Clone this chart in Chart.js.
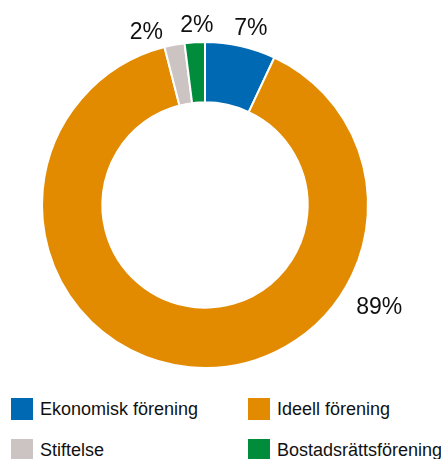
<!DOCTYPE html>
<html>
<head>
<meta charset="utf-8">
<script src="https://cdn.jsdelivr.net/npm/chart.js@4"></script>
<style>
  body { margin: 0; background: #fff; width: 441px; height: 459px; overflow: hidden; position: relative; font-family: "Liberation Sans", Arial, sans-serif; }
  #wrap { position: absolute; left: 0; top: 0; width: 441px; height: 385px; }
  .item { position: absolute; display: flex; align-items: center; font-size: 18px; color: #111; white-space: nowrap; }
  .item span.box { width: 22px; height: 22px; margin-right: 7px; display: inline-block; }
</style>
</head>
<body>
<div id="wrap"><canvas id="chart"></canvas></div>
<div id="legend"></div>
<script>
// ===============================
// Data
// ===============================
const labels = ['Ekonomisk förening', 'Ideell förening', 'Stiftelse', 'Bostadsrättsförening'];
const shares = [7, 89, 2, 2];
const colors = ['#0069b4', '#e28a00', '#cbc4c2', '#008c3b'];

// label tweaks (angle in degrees, extra radius) so small slices don't collide
const labelNudge = [[2, 2], [-65, 22], [-8, 2], [1, 0]];

// ===============================
// Outside percentage labels
// ===============================
const outsideLabels = {
  id: 'outsideLabels',
  afterDatasetsDraw(chart) {
    const ctx = chart.ctx;
    const meta = chart.getDatasetMeta(0);
    ctx.save();
    ctx.font = '23px "Liberation Sans", Arial, sans-serif';
    ctx.fillStyle = '#111';
    ctx.textAlign = 'center';
    ctx.textBaseline = 'middle';
    meta.data.forEach((arc, i) => {
      const mid = (arc.startAngle + arc.endAngle) / 2 + labelNudge[i][0] * Math.PI / 180;
      const r = arc.outerRadius + 17 + labelNudge[i][1];
      ctx.fillText(shares[i] + '%', arc.x + Math.cos(mid) * r, arc.y + Math.sin(mid) * r);
    });
    ctx.restore();
  }
};

new Chart(document.getElementById('chart').getContext('2d'), {
  type: 'doughnut',
  data: {
    labels: labels,
    datasets: [{
      data: shares,
      backgroundColor: colors,
      borderColor: '#fff',
      borderWidth: 2
    }]
  },
  options: {
    responsive: true,
    maintainAspectRatio: false,
    animation: false,
    cutout: '63%',
    layout: { padding: { left: 41, right: 72, top: 41, bottom: 16 } },
    plugins: {
      legend: { display: false },
      tooltip: { enabled: false }
    }
  },
  plugins: [outsideLabels]
});

// ===============================
// Legend (two columns)
// ===============================
const legend = document.getElementById('legend');
labels.forEach((name, i) => {
  const el = document.createElement('div');
  el.className = 'item';
  el.style.left = (i % 2 === 0 ? 11 : 248) + 'px';
  el.style.top = (i < 2 ? 398 : 439) + 'px';
  el.innerHTML = `<span class="box" style="background:${colors[i]}"></span>${name}`;
  legend.appendChild(el);
});
</script>
</body>
</html>
